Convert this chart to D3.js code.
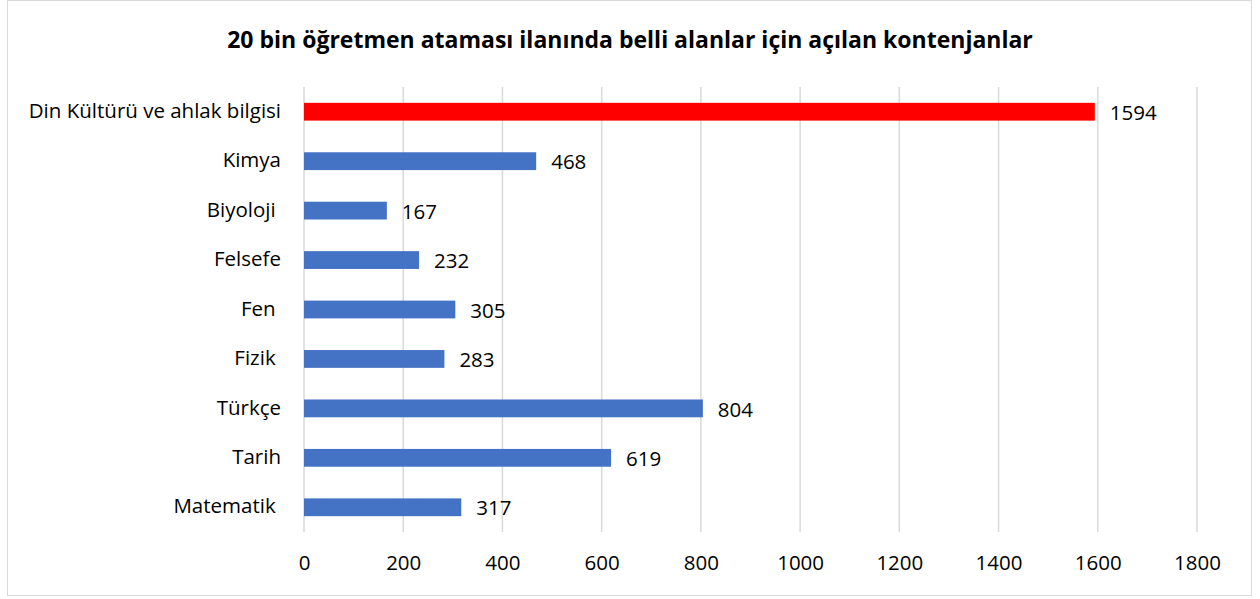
<!DOCTYPE html>
<html lang="tr">
<head>
<meta charset="UTF-8">
<title>Öğretmen ataması kontenjanları</title>
<script src="https://cdn.jsdelivr.net/npm/d3@7"></script>
<style>
    body { margin: 0; background: #fff; font-family: "Open Sans", "Noto Sans", sans-serif; }
    text { white-space: pre; }
</style>
</head>
<body>
<div id="chart"></div>
<script>
    // data
    const categories = ["Din Kültürü ve ahlak bilgisi", "Kimya", "Biyoloji ", "Felsefe", "Fen ", "Fizik ", "Türkçe", "Tarih", "Matematik "];
    const values = [1594, 468, 167, 232, 305, 283, 804, 619, 317];
    const tickValues = [0, 200, 400, 600, 800, 1000, 1200, 1400, 1600, 1800];
    const highlight = "Din Kültürü ve ahlak bilgisi";

    const W = 1260, H = 599;
    const svg = d3.select("#chart").append("svg")
        .attr("width", W)
        .attr("height", H);

    // chart frame
    svg.append("rect")
        .attr("x", 7.5).attr("y", 0.5)
        .attr("width", 1244).attr("height", 595)
        .attr("fill", "#fff")
        .attr("stroke", "#d9d9d9");

    svg.append("text")
        .attr("x", 630)
        .attr("y", 48)
        .attr("text-anchor", "middle")
        .attr("font-size", "23px")
        .attr("font-weight", "bold")
        .attr("fill", "#000")
        .text("20 bin öğretmen ataması ilanında belli alanlar için açılan kontenjanlar");

    const x = d3.scaleLinear().domain([0, 1800]).range([304, 1197]);
    const y = d3.scaleBand().domain(categories).range([87, 532]).paddingInner(0.64).paddingOuter(0.32);

    // gridlines
    svg.append("g")
        .selectAll("line")
        .data(tickValues)
        .join("line")
        .attr("x1", d => x(d)).attr("x2", d => x(d))
        .attr("y1", 87).attr("y2", 532)
        .attr("stroke", "#d9d9d9")
        .attr("stroke-width", 1.5);

    // bars
    svg.append("g")
        .selectAll("rect")
        .data(values)
        .join("rect")
        .attr("x", x(0))
        .attr("y", (d, i) => y(categories[i]))
        .attr("width", d => x(d) - x(0))
        .attr("height", y.bandwidth())
        .attr("fill", (d, i) => categories[i] === highlight ? "#ff0000" : "#4472c4");

    // value labels
    svg.append("g")
        .selectAll("text")
        .data(values)
        .join("text")
        .attr("x", d => x(d) + 15)
        .attr("y", (d, i) => y(categories[i]) + y.bandwidth() / 2)
        .attr("dy", "0.4em")
        .attr("font-size", "20.5px")
        .attr("fill", "#000")
        .text(d => d);

    // category labels
    svg.append("g")
        .selectAll("text")
        .data(categories)
        .join("text")
        .attr("x", 281)
        .attr("y", d => y(d) + y.bandwidth() / 2)
        .attr("dy", "0.3em")
        .attr("text-anchor", "end")
        .attr("font-size", "20.5px")
        .attr("fill", "#000")
        .text(d => d);

    // x axis labels
    const axis = svg.append("g")
        .attr("transform", "translate(0,555)")
        .call(d3.axisBottom(x).tickValues(tickValues).tickFormat(d3.format("d")).tickSize(0).tickPadding(0));
    axis.select(".domain").remove();
    axis.selectAll("text")
        .attr("font-family", "\"Open Sans\", \"Noto Sans\", sans-serif")
        .attr("font-size", "20.5px")
        .attr("fill", "#000");
</script>
</body>
</html>
